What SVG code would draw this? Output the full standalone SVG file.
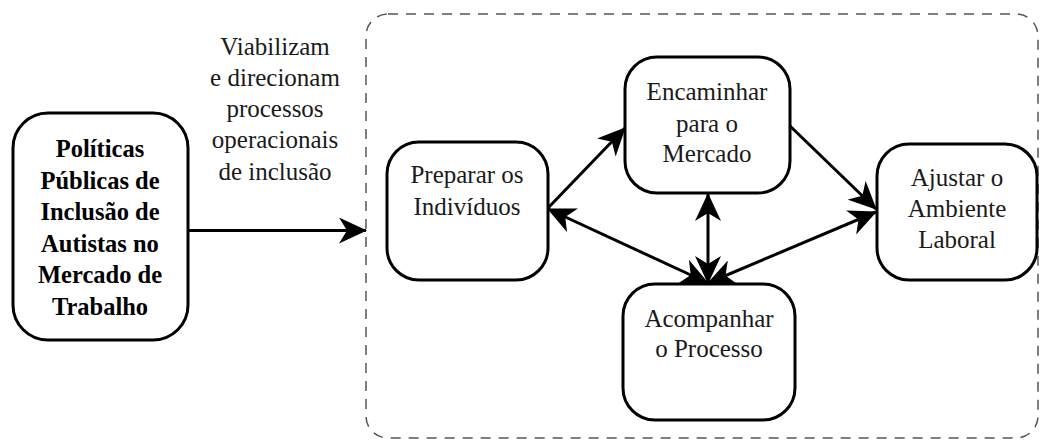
<svg xmlns="http://www.w3.org/2000/svg" width="1043" height="441" viewBox="0 0 1043 441">
<defs>
<marker id="ah" viewBox="0 0 28 26" refX="27" refY="13" markerWidth="28" markerHeight="26" markerUnits="userSpaceOnUse" orient="auto-start-reverse">
<path d="M0,0 L28,13 L0,26 L8,13 z" fill="#000"/>
</marker>
<style>
.box{fill:#fff;stroke:#000;stroke-width:3}
.t{font-size:25px;fill:#1a1a1a;text-anchor:middle}
.b{font-weight:bold;fill:#000;font-size:24.5px}
.c{stroke:#000;stroke-width:3;fill:none}
</style>
</defs>
<g font-family="Liberation Serif, Times New Roman, serif">
<rect x="366" y="14" width="672" height="424" rx="22" fill="none" stroke="#555" stroke-width="1.5" stroke-dasharray="10,8"/>
<g id="label">
<text class="t" x="275" y="55">Viabilizam</text>
<text class="t" x="275" y="86">e direcionam</text>
<text class="t" x="275" y="117">processos</text>
<text class="t" x="275" y="148">operacionais</text>
<text class="t" x="275" y="180">de inclusão</text>
</g>
<g id="connectors">
<line class="c" x1="188" y1="230.5" x2="366" y2="230.5" marker-end="url(#ah)"/>
<line class="c" x1="548" y1="208" x2="625" y2="128" marker-end="url(#ah)"/>
<line class="c" x1="548" y1="209" x2="708" y2="283" marker-start="url(#ah)" marker-end="url(#ah)"/>
<line class="c" x1="708" y1="194" x2="708" y2="283" marker-start="url(#ah)" marker-end="url(#ah)"/>
<line class="c" x1="708" y1="283" x2="876" y2="212" marker-start="url(#ah)" marker-end="url(#ah)"/>
<line class="c" x1="790" y1="126" x2="876" y2="209" marker-end="url(#ah)"/>
</g>
<g id="politicas">
<rect class="box" x="13" y="113" width="175" height="227" rx="35"/>
<text class="t b" x="100" y="157">Políticas</text>
<text class="t b" x="100" y="188.5">Públicas de</text>
<text class="t b" x="100" y="220">Inclusão de</text>
<text class="t b" x="100" y="251.5">Autistas no</text>
<text class="t b" x="100" y="283">Mercado de</text>
<text class="t b" x="100" y="314.5">Trabalho</text>
</g>
<g id="preparar">
<rect class="box" x="387" y="142" width="161" height="138" rx="32"/>
<text class="t" x="467" y="183">Preparar os</text>
<text class="t" x="467" y="215">Indivíduos</text>
</g>
<g id="encaminhar">
<rect class="box" x="625" y="57" width="165" height="136" rx="32"/>
<text class="t" x="707" y="100">Encaminhar</text>
<text class="t" x="707" y="132">para o</text>
<text class="t" x="707" y="162">Mercado</text>
</g>
<g id="acompanhar">
<rect class="box" x="623" y="284" width="172" height="136" rx="32"/>
<text class="t" x="709" y="327">Acompanhar</text>
<text class="t" x="709" y="357">o Processo</text>
</g>
<g id="ajustar">
<rect class="box" x="877" y="144" width="160" height="136" rx="32"/>
<text class="t" x="957" y="186">Ajustar o</text>
<text class="t" x="957" y="217">Ambiente</text>
<text class="t" x="957" y="248">Laboral</text>
</g>
</g>
</svg>
